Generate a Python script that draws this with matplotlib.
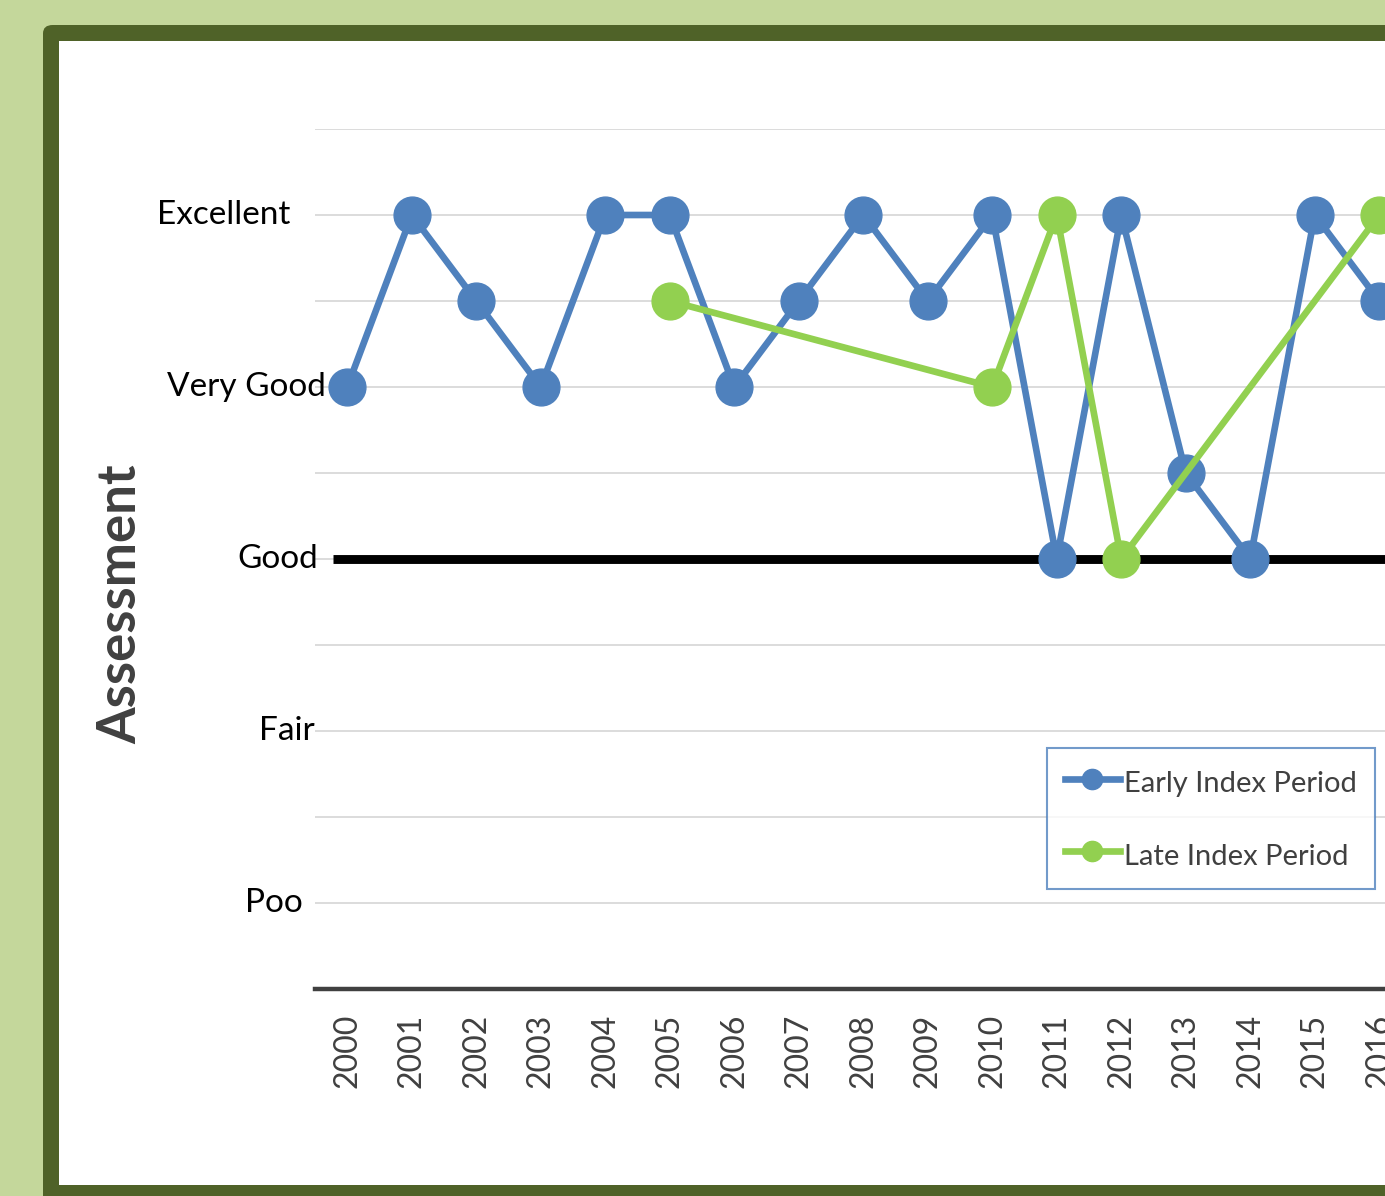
import matplotlib
matplotlib.use("Agg")
import matplotlib.pyplot as plt
from matplotlib.patches import FancyBboxPatch, Rectangle
from matplotlib.transforms import blended_transform_factory

# ---- data -------------------------------------------------------------
years = [2000, 2001, 2002, 2003, 2004, 2005, 2006, 2007, 2008,
         2009, 2010, 2011, 2012, 2013, 2014, 2015, 2016]
early_index = [4, 5, 4.5, 4, 5, 5, 4, 4.5, 5, 4.5, 5, 3, 5, 3.5, 3, 5, 4.5]
late_years = [2005, 2010, 2011, 2012, 2016]
late_index = [4.5, 4, 5, 3, 5]
rating_levels = [5, 4, 3, 2, 1]
rating_names = ["Excellent", "Very Good", "Good", "Fair", "Poo"]
threshold = 3

# ---- figure -----------------------------------------------------------
W, H = 1385, 1196
plt.rcParams["font.family"] = ["Lato", "DejaVu Sans"]
fig = plt.figure(figsize=(W / 100, H / 100), dpi=100)
fig.patch.set_facecolor("#c4d79b")


def fx(px):
    return px / W


def fy(py):
    return 1 - py / H


# dark green rounded frame with white panel inside
frame = FancyBboxPatch((fx(43), fy(1250)), fx(1500), (1250 - 25) / H,
                       boxstyle="round,pad=0,rounding_size=0.007",
                       transform=fig.transFigure, facecolor="#4f6228",
                       edgecolor="none", zorder=-3)
fig.patches.append(frame)
panel = Rectangle((fx(59), fy(1185)), fx(1500), (1185 - 41) / H,
                  transform=fig.transFigure, facecolor="white",
                  edgecolor="none", zorder=-2)
fig.patches.append(panel)

# ---- axes -------------------------------------------------------------
ax_left, ax_right, ax_top, ax_bottom = 315, 1385, 129, 989
ax = fig.add_axes([fx(ax_left), fy(ax_bottom),
                   fx(ax_right - ax_left), (ax_bottom - ax_top) / H])
ax.set_facecolor("none")

xs = list(range(len(years)))
step_px = 64.5
ax.set_xlim(-0.5, -0.5 + (ax_right - ax_left) / step_px)
ax.set_ylim(0.5, 5.5)

# horizontal gridlines every half step
for k in range(1, 11):
    ax.axhline(0.5 + 0.5 * k, color="#d9d9d9", lw=1.3, zorder=1)

# "Good" threshold line
ax.plot([-0.22, len(years) + 2], [threshold, threshold], color="black",
        lw=6.4, solid_capstyle="butt", zorder=2)

late_x = [years.index(y) for y in late_years]
ax.plot(xs, early_index, color="#4f81bd", lw=4.8, marker="o", ms=26.5,
        mec="#4f81bd", mfc="#4f81bd", zorder=3, label="Early Index Period")
ax.plot(late_x, late_index, color="#92d050", lw=4.8, marker="o", ms=26.5,
        mec="#92d050", mfc="#92d050", zorder=4, label="Late Index Period")

for side in ["left", "right", "top"]:
    ax.spines[side].set_visible(False)
ax.spines["bottom"].set_color("#404040")
ax.spines["bottom"].set_linewidth(3.2)
ax.spines["bottom"].set_zorder(5)

ax.set_xticks(xs)
ax.set_xticklabels([str(y) for y in years], rotation=90, fontsize=23,
                   color="#404040", va="top")
ax.tick_params(axis="x", length=0, pad=18)
ax.set_yticks([])

# rating names beside the gridlines
label_tf = blended_transform_factory(fig.transFigure, ax.transData)
label_right_px = [290, 326, 318, 315, 303]
for lvl, name, rx in zip(rating_levels, rating_names, label_right_px):
    ax.text(fx(rx), lvl, name, transform=label_tf, ha="right", va="center",
            fontsize=24, color="black", clip_on=False)

fig.text(fx(121), fy(604), "Assessment", rotation=90, ha="center",
         va="center", fontsize=38, fontweight="bold", color="#404040")

leg = ax.legend(loc="upper left",
                bbox_to_anchor=((1047 - ax_left) / (ax_right - ax_left),
                                (ax_bottom - 748) / (ax_bottom - ax_top)),
                borderaxespad=0, fontsize=21, frameon=True, fancybox=False,
                handlelength=1.9, handletextpad=0.15, handleheight=1.4,
                labelspacing=1.33, borderpad=0.6, markerscale=0.55,
                labelcolor="#404040")
leg.get_frame().set_edgecolor("#4f81bd")
leg.get_frame().set_linewidth(1.5)
leg.set_zorder(6)

fig.savefig("out.png", dpi=100, facecolor=fig.get_facecolor())
